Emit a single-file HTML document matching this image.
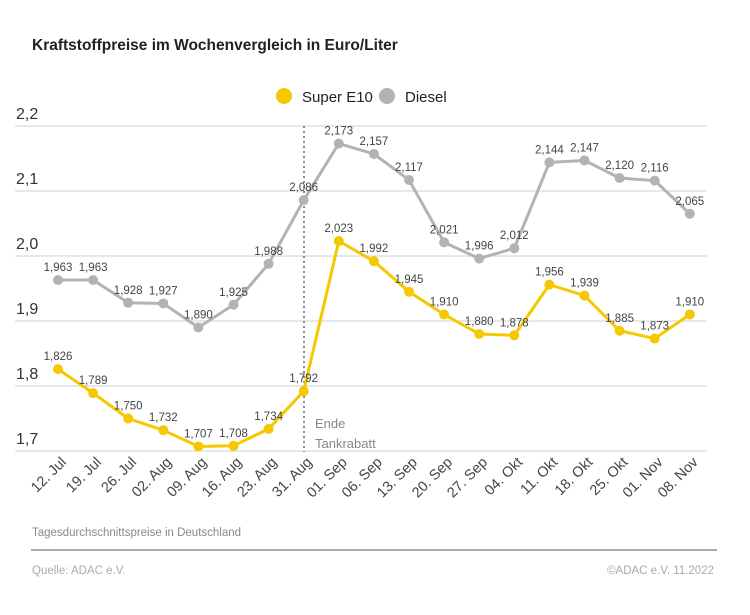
<!DOCTYPE html>
<html><head><meta charset="utf-8">
<style>
html,body{margin:0;padding:0;background:#fff;}
svg{display:block;font-family:"Liberation Sans",sans-serif;}
</style></head><body>
<svg id="s" width="750" height="615" viewBox="0 0 750 615" xmlns="http://www.w3.org/2000/svg">
<text x="32" y="50" font-size="15.5" font-weight="bold" fill="#222">Kraftstoffpreise im Wochenvergleich in Euro/Liter</text>
<circle cx="284" cy="96" r="8" fill="#f6c800"/>
<text x="302" y="102" font-size="15" fill="#222">Super E10</text>
<circle cx="387" cy="96" r="8" fill="#b3b3b3"/>
<text x="405" y="102" font-size="15" fill="#222">Diesel</text>
<g id="grid"></g>
<line x1="304" y1="126" x2="304" y2="452" stroke="#666" stroke-width="1.5" stroke-dasharray="2,3"/>
<text x="315" y="428" font-size="13" fill="#888">Ende</text>
<text x="315" y="448" font-size="13" fill="#888">Tankrabatt</text>
<g id="series"></g>
<text x="32" y="536" font-size="11.5" fill="#888">Tagesdurchschnittspreise in Deutschland</text>
<line x1="31" y1="550" x2="717" y2="550" stroke="#aaa" stroke-width="2"/>
<text x="32" y="574" font-size="11.5" fill="#aaa">Quelle: ADAC e.V.</text>
<text x="714" y="574" font-size="11.5" fill="#aaa" text-anchor="end">©ADAC e.V.  11.2022</text>
</svg>
<script>
var NS="http://www.w3.org/2000/svg";
function el(p,t,a,txt){var e=document.createElementNS(NS,t);for(var k in a)e.setAttribute(k,a[k]);if(txt!==undefined)e.textContent=txt;p.appendChild(e);return e;}
function Y(v){return 451-(v-1.7)*650;}
function X(i){return 58+i*35.1;}
var g=document.getElementById('grid');
[2.2,2.1,2.0,1.9,1.8,1.7].forEach(function(v){
 el(g,'line',{x1:15,x2:707,y1:Y(v),y2:Y(v),stroke:'#d0d0d0','stroke-width':1});
 el(g,'text',{x:16,y:Y(v)-7,'font-size':16,fill:'#333'},v.toFixed(1).replace('.',','));
});
var dates=["12. Jul","19. Jul","26. Jul","02. Aug","09. Aug","16. Aug","23. Aug","31. Aug","01. Sep","06. Sep","13. Sep","20. Sep","27. Sep","04. Okt","11. Okt","18. Okt","25. Okt","01. Nov","08. Nov"];
dates.forEach(function(d,i){var x=X(i)+9,y=463;
 el(g,'text',{x:x,y:y,'font-size':14.5,fill:'#444','text-anchor':'end',transform:'rotate(-45 '+x+' '+y+')'},d);});
var D=[1.963,1.963,1.928,1.927,1.890,1.925,1.988,2.086,2.173,2.157,2.117,2.021,1.996,2.012,2.144,2.147,2.120,2.116,2.065];
var E=[1.826,1.789,1.750,1.732,1.707,1.708,1.734,1.792,2.023,1.992,1.945,1.910,1.880,1.878,1.956,1.939,1.885,1.873,1.910];
var s=document.getElementById('series');
[[D,'#b3b3b3'],[E,'#f6c800']].forEach(function(p){
 var pts=p[0].map(function(v,i){return X(i)+','+Y(v);}).join(' ');
 el(s,'polyline',{points:pts,fill:'none',stroke:p[1],'stroke-width':3,'stroke-linejoin':'round'});
 p[0].forEach(function(v,i){
  el(s,'circle',{cx:X(i),cy:Y(v),r:5,fill:p[1]});
  el(s,'text',{x:X(i),y:Y(v)-9,'font-size':11.5,fill:'#444','text-anchor':'middle'},v.toFixed(3).replace('.',','));
 });
});
</script>
</body></html>
